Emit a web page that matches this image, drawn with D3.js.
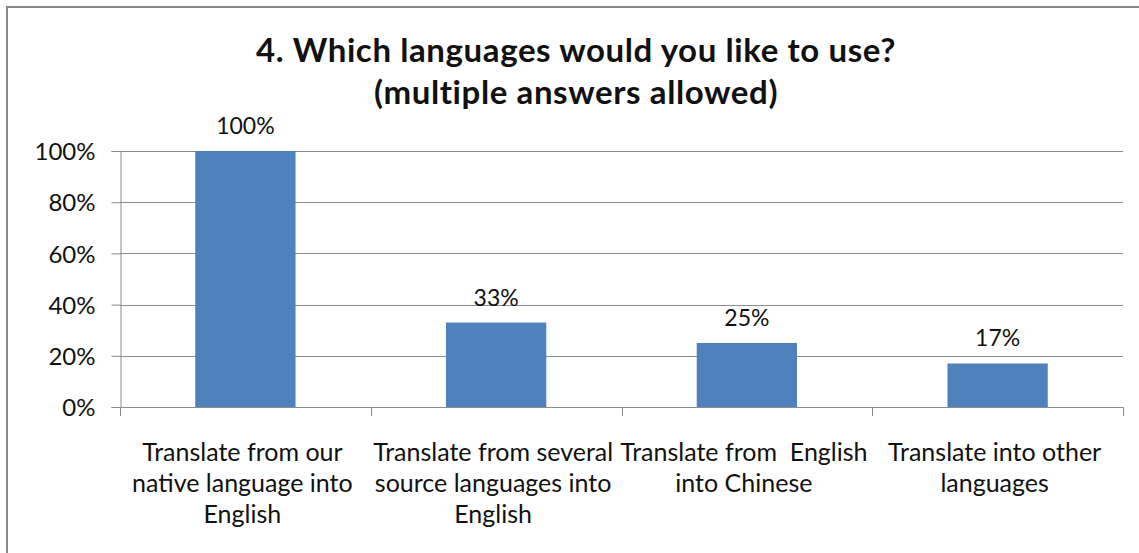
<!DOCTYPE html>
<html>
<head>
<meta charset="utf-8">
<script src="https://cdn.jsdelivr.net/npm/d3@7"></script>
<style>
  html, body { margin: 0; padding: 0; background: #fff; }
  svg { display: block; }
  text { font-family: Lato, "Open Sans", sans-serif; fill: #111; }
</style>
</head>
<body>
<svg id="chart" width="1139" height="553"></svg>
<script>
// Survey question and its answers
const titleLines = ["4. Which languages would you like to use?", "(multiple answers allowed)"];
const categories = [
  "Translate from our native language into English",
  "Translate from several source languages into English",
  "Translate from English into Chinese",
  "Translate into other languages"
];
const categoryLines = [
  ["Translate from our", "native language into", "English"],
  ["Translate from several", "source languages into", "English"],
  ["Translate from  English", "into Chinese"],
  ["Translate into other", "languages"]
];
const shares = [1.00, 0.33, 0.25, 0.17];
const yTicks = [0, 0.2, 0.4, 0.6, 0.8, 1.0];

const W = 1139, H = 553;
const plot = { left: 120, right: 1123, top: 151, bottom: 407 };
const gridColor = "#8c8c8c";
const pct = d3.format(".0%");

const svg = d3.select("#chart");

// Outer chart frame (open on the right and bottom edges of the page)
svg.append("rect")
  .attr("x", 7).attr("y", 7)
  .attr("width", W + 10).attr("height", H + 10)
  .attr("fill", "none").attr("stroke", "#868686").attr("stroke-width", 2);

const x = d3.scaleBand()
  .domain(categories)
  .range([plot.left, plot.right])
  .paddingInner(0.6).paddingOuter(0.3);

const y = d3.scaleLinear().domain([0, 1]).range([plot.bottom, plot.top]);

// Horizontal gridlines
svg.append("g")
  .selectAll("line")
  .data(yTicks.filter(d => d > 0))
  .join("line")
  .attr("x1", plot.left).attr("x2", plot.right)
  .attr("y1", d => Math.round(y(d)) + 0.5).attr("y2", d => Math.round(y(d)) + 0.5)
  .attr("stroke", gridColor).attr("stroke-width", 1);

// Y axis
const yAxis = svg.append("g")
  .attr("transform", `translate(${plot.left + 0.5},0)`)
  .call(d3.axisLeft(y).tickValues(yTicks).tickFormat(pct).tickSize(9).tickPadding(16));
yAxis.select(".domain").attr("stroke", gridColor);
yAxis.selectAll(".tick line").attr("stroke", gridColor);
yAxis.selectAll(".tick text")
  .attr("font-size", 24).attr("font-family", "Lato, sans-serif").attr("fill", "#111")
  .attr("dy", "0.36em");

// Bars
svg.append("g")
  .selectAll("rect")
  .data(categories)
  .join("rect")
  .attr("x", d => x(d))
  .attr("width", x.bandwidth())
  .attr("y", (d, i) => y(shares[i]))
  .attr("height", (d, i) => y(0) - y(shares[i]))
  .attr("fill", "#4f81bd");

// X axis with category boundaries as ticks
const bounds = d3.range(categories.length + 1).map(i => plot.left + i * x.step());
svg.append("line")
  .attr("x1", plot.left).attr("x2", plot.right)
  .attr("y1", plot.bottom + 0.5).attr("y2", plot.bottom + 0.5)
  .attr("stroke", gridColor);
svg.append("g")
  .selectAll("line")
  .data(bounds)
  .join("line")
  .attr("x1", d => Math.round(d) + 0.5).attr("x2", d => Math.round(d) + 0.5)
  .attr("y1", plot.bottom).attr("y2", plot.bottom + 9)
  .attr("stroke", gridColor);

// Category labels
const labelG = svg.append("g").attr("font-size", 25).attr("text-anchor", "middle");
categories.forEach((c, i) => {
  const cx = x(c) + x.bandwidth() / 2 - 3;
  const t = labelG.append("text")
    .attr("x", cx)
    .attr("y", 461)
    .style("white-space", "pre");
  categoryLines[i].forEach((line, j) => {
    t.append("tspan")
      .attr("x", cx)
      .attr("dy", j === 0 ? 0 : 31)
      .text(line);
  });
});

// Value labels above bars
svg.append("g")
  .attr("font-size", 23).attr("text-anchor", "middle")
  .selectAll("text")
  .data(categories)
  .join("text")
  .attr("x", d => x(d) + x.bandwidth() / 2)
  .attr("y", (d, i) => y(shares[i]) - 17)
  .text((d, i) => pct(shares[i]));

// Title
const title = svg.append("text")
  .attr("x", 576).attr("y", 62)
  .attr("text-anchor", "middle")
  .attr("font-size", 33).attr("font-weight", "bold")
  .attr("letter-spacing", 0.6);
titleLines.forEach((line, j) => {
  title.append("tspan").attr("x", 576).attr("dy", j === 0 ? 0 : 42).text(line);
});
</script>
</body>
</html>
